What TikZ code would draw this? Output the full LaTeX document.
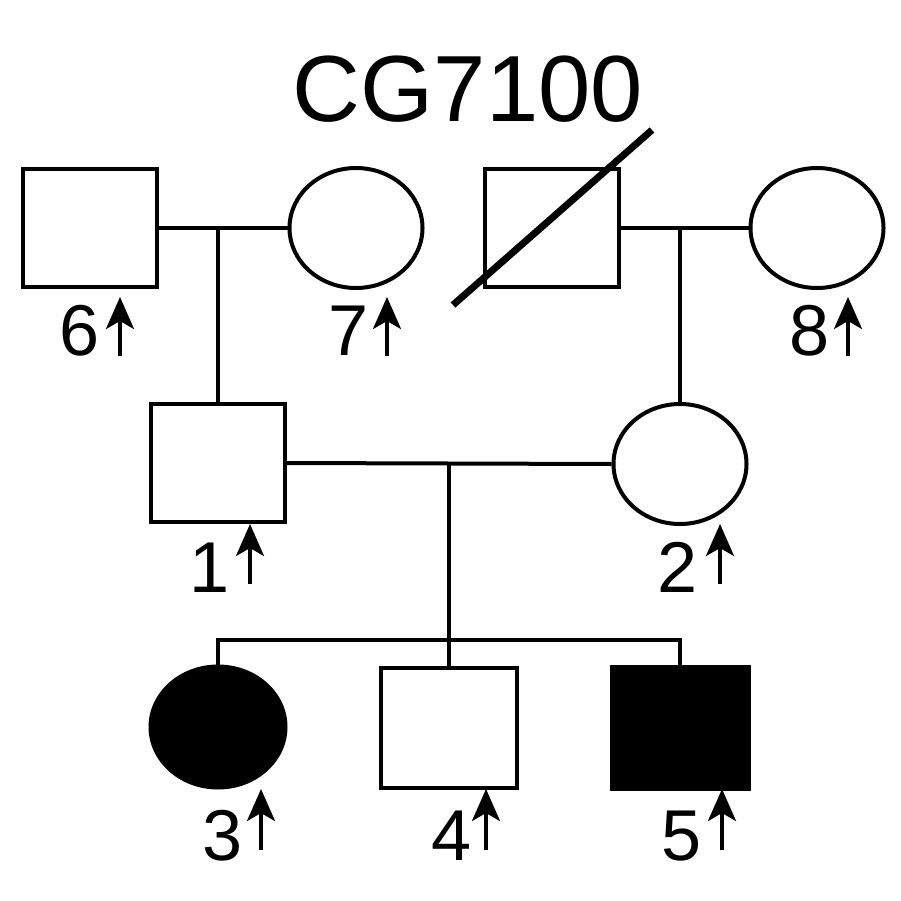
\documentclass[tikz,border=0pt]{standalone}
\usepackage{fontspec}
\setmainfont{Liberation Sans}
\usetikzlibrary{shapes.geometric,arrows.meta}
\begin{document}
\begin{tikzpicture}[x=1pt,y=-1pt,
  male/.style={draw,line width=4pt,rectangle,inner sep=0pt,minimum width=134pt,minimum height=118pt},
  female/.style={draw,line width=4pt,ellipse,inner sep=0pt,minimum width=133pt,minimum height=120pt},
  affected/.style={fill=black},
  rel/.style={line width=4pt},
  num/.style={inner sep=0pt,anchor=base,font=\fontsize{72}{80}\selectfont},
  up/.style={line width=3.5pt,-{Stealth[length=32pt,width=28pt,inset=8pt]}}
]
\useasboundingbox (0,0) rectangle (900,901);

% title
\node[inner sep=0pt,anchor=base,font=\fontsize{94}{100}\selectfont] (title) at (468,122) {CG7100};

% generation I
\node[male]   (p6) at (90,228) {};
\node[female] (p7) at (356,228) {};
\node[male]   (pd) at (552,228) {};
\node[female] (p8) at (817,228) {};

% generation II
\node[male]   (p1) at (217.5,463) {};
\node[female] (p2) at (680,464) {};

% generation III
\node[female,affected,minimum width=135pt,minimum height=121pt] (p3) at (218,727) {};
\node[male,minimum width=136pt,minimum height=120pt] (p4) at (449,728) {};
\node[male,affected,minimum width=137pt,minimum height=122pt] (p5) at (680,728) {};

% deceased mark
\draw[line width=7pt] ([shift={(-99,77)}]pd.center) -- ([shift={(100,-98)}]pd.center);

% couples and descent
\draw[rel] (p6.east) -- (p7.west);
\coordinate (m67) at (p1.north |- p6.east);
\draw[rel] (m67) -- (p1.north);

\draw[rel] (pd.east) -- (p8.west);
\coordinate (md8) at (p2.north |- pd.east);
\draw[rel] (md8) -- (p2.north);

\draw[rel] (p1.east) -- (p2.west);
\coordinate (m12) at (p4.north |- p1.east);
\draw[rel] (m12) -- (p4.north);

\coordinate (sib) at (449,640);
\draw[rel] (p3.north) -- (p3.north |- sib) -- (p5.north |- sib) -- (p5.north);

% labels
\node[num] (l6) at (80,355) {6};   \draw[up] (120,356) -- (120,297);
\node[num] (l7) at (349,355) {7};  \draw[up] (387,356) -- (387,297);
\node[num] (l8) at (810,355) {8};  \draw[up] (848,356) -- (848,297);
\node[num] (l1) at (210,592) {1};  \draw[up] (250,584) -- (250,524);
\node[num] (l2) at (678,592) {2};  \draw[up] (720,584) -- (720,524);
\node[num] (l3) at (223,860) {3};  \draw[up] (261,850) -- (261,789);
\node[num] (l4) at (452,860) {4};  \draw[up] (486,850) -- (486,789);
\node[num] (l5) at (682,860) {5};  \draw[up] (722,850) -- (722,789);
\end{tikzpicture}
\end{document}
